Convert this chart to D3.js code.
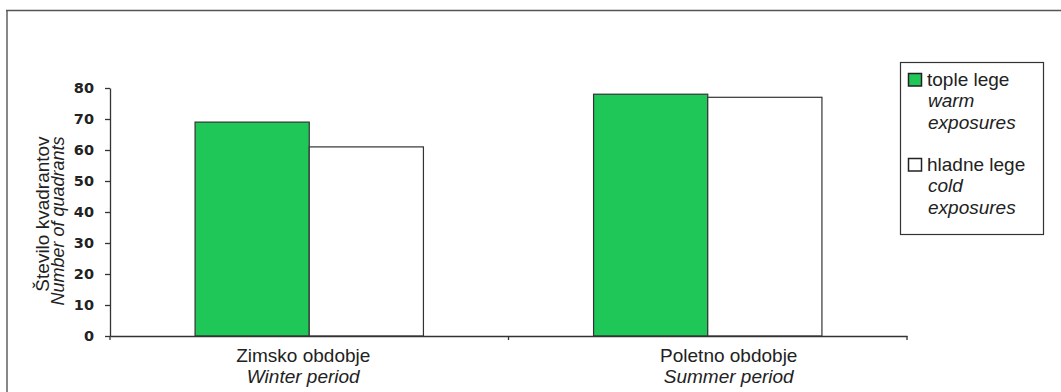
<!DOCTYPE html>
<html>
<head>
<meta charset="utf-8">
<script src="https://cdn.jsdelivr.net/npm/d3@7"></script>
<style>
  html, body { margin: 0; padding: 0; background: #fff; }
  svg { display: block; }
  text { fill: #222; }
</style>
</head>
<body>
<svg id="chart" width="1061" height="392"></svg>
<script>
// Data
const periods = ["Zimsko obdobje", "Poletno obdobje"];
const periodsEn = ["Winter period", "Summer period"];
const seriesNames = ["tople lege", "hladne lege"];
const seriesNamesEn = [["warm", "exposures"], ["cold", "exposures"]];
const warmValues = [69, 78];
const coldValues = [61, 77];
const yTicks = [0, 10, 20, 30, 40, 50, 60, 70, 80];

const seriesFill = ["#1fc759", "#ffffff"];
const labelShift = [-6, 21];

const svg = d3.select("#chart");
const W = 1061, H = 392;
const plot = { left: 110, right: 907, top: 88, bottom: 336 };
const sans = "'Liberation Sans', Arial, sans-serif";

// Outer frame (top and left edges)
svg.append("line").attr("x1", 6).attr("x2", W).attr("y1", 10.5).attr("y2", 10.5)
  .attr("stroke", "#555").attr("stroke-width", 1.6);
svg.append("line").attr("x1", 7).attr("x2", 7).attr("y1", 10).attr("y2", H)
  .attr("stroke", "#555").attr("stroke-width", 1.4);

const y = d3.scaleLinear().domain([0, 80]).range([plot.bottom, plot.top]);
const x0 = d3.scaleBand().domain(periods).range([plot.left, plot.right]).padding(0);
const x1 = d3.scaleBand().domain(seriesNames).range([0, x0.bandwidth()])
  .paddingInner(0).paddingOuter(0.745);

const rows = periods.map((p, i) => ({ period: p, values: [warmValues[i], coldValues[i]] }));

// Bars
const groups = svg.append("g").selectAll("g").data(rows).join("g")
  .attr("transform", d => `translate(${x0(d.period)},0)`);
groups.selectAll("rect")
  .data(d => d.values.map((v, k) => ({ key: seriesNames[k], k, v })))
  .join("rect")
  .attr("x", d => x1(d.key))
  .attr("y", d => y(d.v))
  .attr("width", x1.bandwidth())
  .attr("height", d => y(0) - y(d.v))
  .attr("fill", d => seriesFill[d.k])
  .attr("stroke", "#333")
  .attr("stroke-width", 1.2);

// Y axis
const yAxis = svg.append("g").attr("transform", `translate(${plot.left},0)`)
  .call(d3.axisLeft(y).tickValues(yTicks).tickSize(5).tickPadding(11).tickSizeOuter(0));
yAxis.select(".domain").attr("stroke", "#333").attr("stroke-width", 1.3);
yAxis.selectAll(".tick line").attr("stroke", "#333").attr("stroke-width", 1.3);
yAxis.selectAll(".tick text")
  .attr("font-family", "'DejaVu Sans', sans-serif")
  .attr("font-weight", "bold")
  .attr("font-size", 14.5)
  .attr("fill", "#222");

// X axis: baseline with ticks at category boundaries
const xAxis = svg.append("g").attr("transform", `translate(0,${plot.bottom})`)
  .call(d3.axisBottom(x0).tickSize(0).tickFormat(""));
xAxis.select(".domain").attr("stroke", "#333").attr("stroke-width", 1.3);
const bounds = [x0(periods[0])].concat(periods.map(p => x0(p) + x0.bandwidth()));
xAxis.selectAll(".bound").data(bounds).join("line")
  .attr("class", "bound")
  .attr("x1", d => d).attr("x2", d => d)
  .attr("y1", 0).attr("y2", 4)
  .attr("stroke", "#333").attr("stroke-width", 1.3);

// Category labels (Slovene and English)
const catLabels = svg.append("g").selectAll("text").data(periods).join("text")
  .attr("x", (d, i) => x0(d) + x0.bandwidth() / 2 + labelShift[i])
  .attr("y", 362)
  .attr("text-anchor", "middle")
  .attr("font-family", sans)
  .attr("font-size", 19);
catLabels.append("tspan").text(d => d);
catLabels.append("tspan")
  .attr("x", (d, i) => x0(d) + x0.bandwidth() / 2 + labelShift[i])
  .attr("dy", 21)
  .attr("font-style", "italic")
  .text((d, i) => periodsEn[i]);

// Y axis titles
svg.append("text")
  .attr("transform", "translate(49,214) rotate(-90)")
  .attr("text-anchor", "middle")
  .attr("font-family", sans)
  .attr("font-size", 19)
  .text("Število kvadrantov");
svg.append("text")
  .attr("transform", "translate(64,221) rotate(-90)")
  .attr("text-anchor", "middle")
  .attr("font-family", sans)
  .attr("font-size", 18)
  .attr("font-style", "italic")
  .text("Number of quadrants");

// Legend
const legend = svg.append("g");
legend.append("rect")
  .attr("x", 900.5).attr("y", 62.5).attr("width", 143).attr("height", 172)
  .attr("fill", "#fff").attr("stroke", "#333").attr("stroke-width", 1.2);
const items = legend.selectAll("g.item").data(seriesNames).join("g")
  .attr("class", "item")
  .attr("transform", (d, i) => `translate(908,${73 + i * 85})`);
items.append("rect")
  .attr("x", 0.5).attr("y", 0.5).attr("width", 13).attr("height", 12.5)
  .attr("fill", (d, i) => seriesFill[i])
  .attr("stroke", "#222").attr("stroke-width", 1.5);
const lt = items.append("text")
  .attr("x", 19).attr("y", 12.5)
  .attr("font-family", sans)
  .attr("font-size", 19);
lt.append("tspan").text(d => d);
lt.selectAll("tspan.en").data((d, i) => seriesNamesEn[i]).join("tspan")
  .attr("class", "en")
  .attr("x", 20).attr("dy", 21.5)
  .attr("font-style", "italic")
  .text(d => d);
</script>
</body>
</html>
